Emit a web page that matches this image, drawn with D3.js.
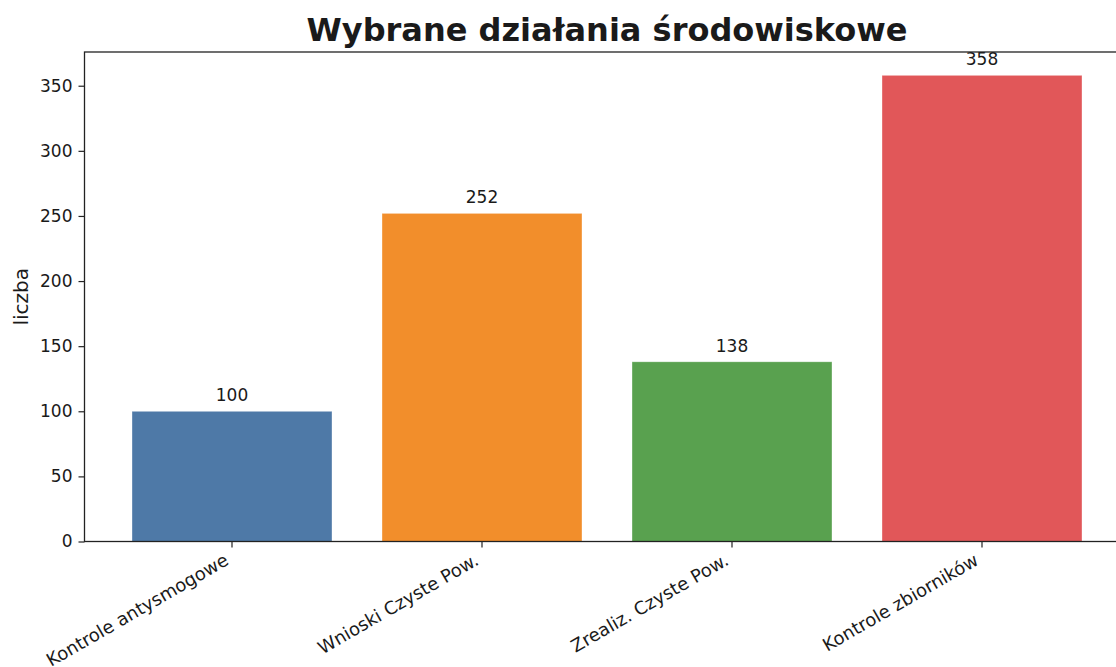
<!DOCTYPE html>
<meta charset="utf-8">
<style>
  body { margin: 0; background: #fff; }
  svg text { font-family: 'DejaVu Sans', sans-serif; fill: #1a1a1a; }
</style>
<script src="https://d3js.org/d3.v7.min.js"></script>
<div id="chart"></div>
<script>

// data
var categories = ["Kontrole antysmogowe", "Wnioski Czyste Pow.", "Zrealiz. Czyste Pow.", "Kontrole zbiorników"];
var values = [100, 252, 138, 358];
var barColors = ["#4e79a7", "#f28e2b", "#59a14f", "#e15759"];
var yTicks = [0, 50, 100, 150, 200, 250, 300, 350];

// figure is a bit wider than the window, so the right spine falls off the edge
var margin = {top: 52, left: 84.5},
    width = 1045,
    height = 489.5;

var svg = d3.select("#chart")
  .append("svg")
    .attr("width", 1116)
    .attr("height", 667);

var g = svg.append("g")
    .attr("transform", "translate(" + margin.left + "," + margin.top + ")");

var x = d3.scaleBand()
  .domain(categories)
  .range([0, width])
  .paddingInner(0.2)
  .paddingOuter(0.19);

var y = d3.scaleLinear()
  .domain([0, d3.max(values) * 1.05])
  .range([height, 0]);

// bars
g.selectAll("rect.bar")
  .data(categories)
  .enter().append("rect")
    .attr("class", "bar")
    .attr("x", function(d) { return x(d); })
    .attr("y", function(d, i) { return y(values[i]); })
    .attr("width", x.bandwidth())
    .attr("height", function(d, i) { return height - y(values[i]); })
    .attr("fill", function(d, i) { return barColors[i]; })
    .attr("stroke", "#fff")
    .attr("stroke-opacity", 0.5)
    .attr("stroke-width", 0.7);

// value labels
g.selectAll("text.val")
  .data(categories)
  .enter().append("text")
    .attr("class", "val")
    .attr("x", function(d) { return x(d) + x.bandwidth() / 2; })
    .attr("y", function(d, i) { return y(values[i]) - 10; })
    .attr("text-anchor", "middle")
    .style("font-size", "17px")
    .text(function(d, i) { return values[i]; });

// axes
var yAxis = g.append("g")
  .call(d3.axisLeft(y).tickValues(yTicks).tickSize(6).tickPadding(6));
yAxis.select(".domain").remove();
yAxis.selectAll("line").attr("stroke", "#222").attr("stroke-width", 1.2);
yAxis.selectAll("text").style("font-size", "17px").attr("fill", "#1a1a1a");

var xAxis = g.append("g")
  .attr("transform", "translate(0," + height + ")")
  .call(d3.axisBottom(x).tickSize(6).tickSizeOuter(0));
xAxis.select(".domain").remove();
xAxis.selectAll("line").attr("stroke", "#222").attr("stroke-width", 1.2);
// rotated like matplotlib ha=right: bottom-right corner of the label sits at the tick x
xAxis.selectAll("text")
  .style("font-size", "18px")
  .attr("fill", "#1a1a1a")
  .attr("text-anchor", "end")
  .attr("x", 0)
  .attr("y", 0)
  .attr("dy", "-0.236em")
  .attr("transform", "translate(0,26) rotate(-30)");

// spines
g.append("rect")
  .attr("x", 0)
  .attr("y", 0)
  .attr("width", width)
  .attr("height", height)
  .attr("fill", "none")
  .attr("stroke", "#222")
  .attr("stroke-width", 1.3);

// title
svg.append("text")
  .attr("x", margin.left + width / 2)
  .attr("y", 41)
  .attr("text-anchor", "middle")
  .style("font-size", "32px")
  .style("font-weight", "bold")
  .attr("fill", "#000")
  .text("Wybrane działania środowiskowe");

// y axis title
svg.append("text")
  .attr("transform", "translate(28," + (margin.top + height / 2) + ") rotate(-90)")
  .attr("text-anchor", "middle")
  .style("font-size", "20px")
  .text("liczba");

</script>
